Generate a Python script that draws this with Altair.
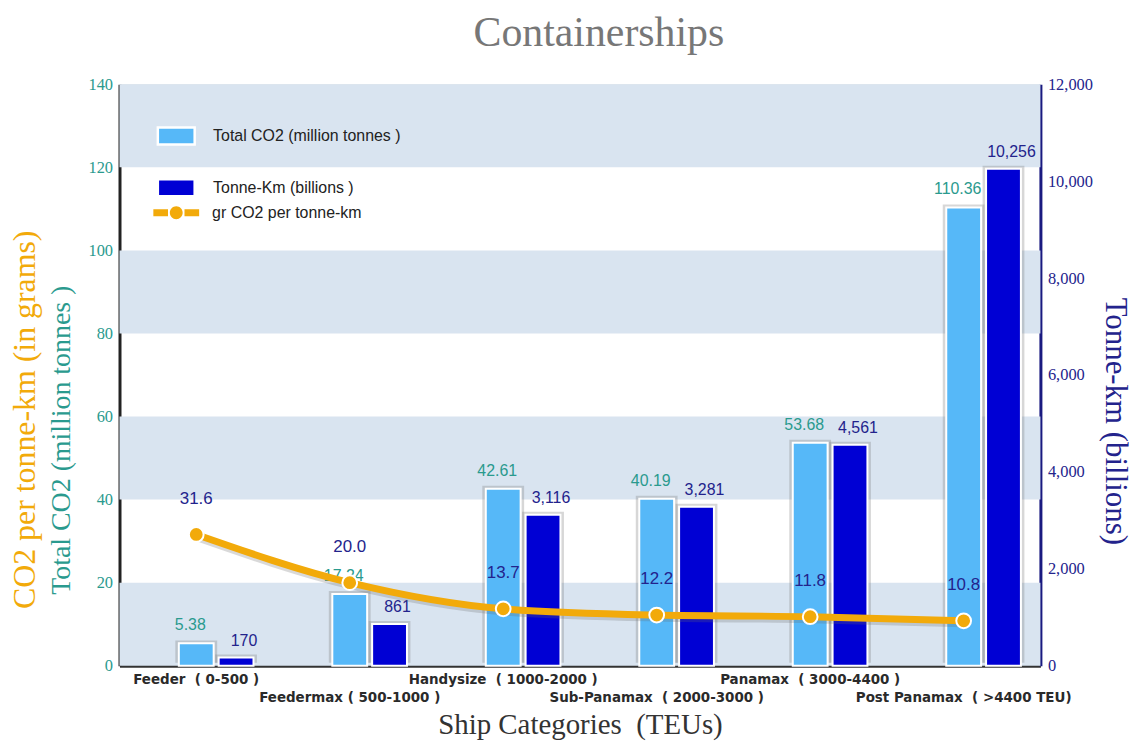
import altair as alt
import pandas as pd

NB = "\u00a0"
categories = ["Feeder  ( 0-500 )", "Feedermax ( 500-1000 )", "Handysize  ( 1000-2000 )",
              "Sub-Panamax  ( 2000-3000 )", "Panamax  ( 3000-4400 )", "Post Panamax  ( >4400 TEU)"]
total_co2 = [5.38, 17.24, 42.61, 40.19, 53.68, 110.36]
tonne_km = [170, 861, 3116, 3281, 4561, 10256]
gr_per_tkm = [31.6, 20.0, 13.7, 12.2, 11.8, 10.8]
label_row = [0, 1, 0, 1, 0, 1]
band_lo = [0, 40, 80, 120]
band_hi = [20, 60, 100, 140]
left_ticks = [0, 20, 40, 60, 80, 100, 120, 140]
right_ticks = [0, 2000, 4000, 6000, 8000, 10000, 12000]

LEG_CO2 = "Total CO2 (million tonnes )"
LEG_TKM = "Tonne-Km (billions )"
LEG_GR = "gr CO2 per tonne-km"

LIGHT = "#56b8f8"
DARK = "#0000d4"
ORANGE = "#f2aa0a"
TEAL = "#2a9a8e"
NAVY = "#23238c"
BAND = "#d9e4f0"
SERIF = "Liberation Serif"
SANS = "Liberation Sans"

W, H = 925, 584

df = pd.DataFrame({
    "cat": categories,
    "co2": total_co2,
    "tkm": tonne_km,
    "gr": gr_per_tkm,
    "row": label_row,
})
df["cat_lbl"] = [c.replace("  ", " " + NB) for c in categories]
df["co2_lbl"] = [f"{v:.2f}" for v in total_co2]
df["tkm_lbl"] = [f"{v:,}" for v in tonne_km]
df["gr_lbl"] = [f"{v:.1f}" for v in gr_per_tkm]

bands = pd.DataFrame({"lo": band_lo, "hi": band_hi})

x_axis = alt.Axis(labels=False, ticks=False, domainColor="#333333", domainWidth=3,
                  titleFont=SERIF, titleFontSize=29, titleFontWeight="normal",
                  titleColor="#333333", titlePadding=45)
X = alt.X("cat:N", sort=categories, title="Ship Categories " + NB + "(TEUs)",
          scale=alt.Scale(paddingInner=0, paddingOuter=0), axis=x_axis)

left_axis = alt.Axis(values=left_ticks, ticks=False, grid=False, domainColor="#222222",
                     domainWidth=3, labelFont=SERIF, labelFontSize=16.5, labelColor=TEAL,
                     labelPadding=7, titleFont=SERIF, titleFontSize=28,
                     titleFontWeight="normal", titleColor=TEAL, titlePadding=12, titleY=357)
right_axis = alt.Axis(orient="right", values=right_ticks, ticks=False, grid=False,
                      domainColor="#1a1a80", domainWidth=3, labelFont=SERIF, labelFontSize=16.5,
                      labelColor=NAVY, labelPadding=7,
                      labelExpr="format(datum.value, ',')", titleFont=SERIF,
                      titleFontSize=31, titleFontWeight="normal", titleColor=NAVY,
                      titlePadding=6, titleY=338)

lscale = alt.Scale(domain=[0, 140], nice=False, zero=True)
rscale = alt.Scale(domain=[0, 12000], nice=False, zero=True)


def YL(field):
    return alt.Y(field, scale=lscale, axis=left_axis, title=LEG_CO2)


color_scale = alt.Scale(domain=[LEG_CO2, LEG_TKM], range=[LIGHT, DARK])
color_legend = alt.Legend(orient="none", legendX=37, legendY=32, title=None,
                          symbolType="M-1,-0.46 L1,-0.46 L1,0.46 L-1,0.46 Z",
                          symbolSize=1369, symbolStrokeColor="white", symbolStrokeWidth=2.5,
                          rowPadding=18, labelOffset=17, labelFont=SANS, labelFontSize=16,
                          labelColor="#222222", labelLimit=500)
line_legend = alt.Legend(orient="none", legendX=34, legendY=106, title=None,
                         symbolType=("M-1,-0.15 L-0.36,-0.15 L-0.36,0.15 L-1,0.15 Z "
                                     "M0.36,-0.15 L1,-0.15 L1,0.15 L0.36,0.15 Z "
                                     "M-0.28,0 A0.28,0.28 0 1,0 0.28,0 A0.28,0.28 0 1,0 -0.28,0 Z"),
                         symbolSize=2116, symbolFillColor=ORANGE, symbolStrokeWidth=0,
                         labelOffset=13, labelFont=SANS, labelFontSize=16,
                         labelColor="#222222", labelLimit=500)

base = alt.Chart(df)

# ---- group A : left scale (bands, light bars, labels)
band_layer = alt.Chart(bands).mark_rect(color=BAND).encode(y=YL("lo:Q"), y2="hi:Q")
light_shadow = base.mark_bar(color="#7a7a7a", opacity=0.3, width=42, yOffset=-3).encode(
    x=X, y=YL("co2:Q"))
light_bars = base.transform_calculate(series=f"'{LEG_CO2}'").mark_bar(
    width=35, stroke="white", strokeWidth=2).encode(
    x=X, y=YL("co2:Q"),
    color=alt.Color("series:N", scale=color_scale, legend=color_legend))
light_lbl = base.mark_text(font=SANS, fontSize=16, color=TEAL, xOffset=-6, yOffset=-18,
                           baseline="middle").encode(x=X, y=YL("co2:Q"), text="co2_lbl:N")
xlbl_common = dict(font="DejaVu Sans Condensed", fontSize=15, fontWeight="bold",
                   color="#2a2a2a", baseline="middle")
xlbl0 = base.transform_filter("datum.row == 0").mark_text(**xlbl_common).encode(
    x=X, y=alt.value(H + 13), text="cat_lbl:N")
xlbl1 = base.transform_filter("datum.row == 1").mark_text(**xlbl_common).encode(
    x=X, y=alt.value(H + 31), text="cat_lbl:N")
orange_title = alt.Chart(pd.DataFrame({"t": ["CO2 per tonne-km (in grams)"]})).mark_text(
    font=SERIF, fontSize=32, color=ORANGE, angle=270, baseline="middle").encode(
    x=alt.value(-95), y=alt.value(337), text="t:N")

group_a = alt.layer(band_layer, light_shadow, light_bars, light_lbl, xlbl0, xlbl1, orange_title)

# ---- group B : right scale (dark bars)
Y_R = alt.Y("tkm:Q", scale=rscale, axis=right_axis, title="Tonne-km (billions)")
dark_shadow = base.mark_bar(color="#7a7a7a", opacity=0.3, width=42, xOffset=40, yOffset=-3).encode(
    x=X, y=Y_R)
dark_bars = base.transform_calculate(series=f"'{LEG_TKM}'").mark_bar(
    width=35, xOffset=40, stroke="white", strokeWidth=2).encode(
    x=X, y=Y_R, color=alt.Color("series:N", scale=color_scale, legend=color_legend))
dark_lbl = base.mark_text(font=SANS, fontSize=16, color=NAVY, xOffset=48, yOffset=-17,
                          baseline="middle").encode(x=X, y=Y_R, text="tkm_lbl:N")
group_b = alt.layer(dark_shadow, dark_bars, dark_lbl)

# ---- group C : CO2 per tonne-km line (same 0-140 mapping, no axis)
Y_G = alt.Y("gr:Q", scale=lscale, axis=None)
line_shadow = base.mark_line(color="#666666", opacity=0.25, strokeWidth=7, interpolate="monotone",
                             yOffset=3).encode(x=X, y=Y_G)
line = base.transform_calculate(series=f"'{LEG_GR}'").mark_line(
    strokeWidth=7, interpolate="monotone").encode(
    x=X, y=Y_G, stroke=alt.Stroke("series:N", scale=alt.Scale(domain=[LEG_GR], range=[ORANGE]),
                                  legend=line_legend))
points = base.mark_point(filled=True, shape="circle", size=220, fill=ORANGE, stroke="white",
                         strokeWidth=2, opacity=1).encode(x=X, y=Y_G)
line_lbl = base.mark_text(font=SANS, fontSize=17, color=NAVY, yOffset=-36,
                          baseline="middle").encode(x=X, y=Y_G, text="gr_lbl:N")
group_c = alt.layer(line_shadow, line, points, line_lbl)

chart = alt.layer(group_a, group_b, group_c).resolve_scale(y="independent").properties(
    width=W, height=H,
    padding={"left": 1, "right": 2, "top": 3, "bottom": 0},
    title=alt.TitleParams("Containerships", font=SERIF, fontSize=42, fontWeight="normal",
                          color="#777777", offset=21, anchor="middle", dx=19),
).configure_view(stroke=None).configure(background="white")

chart.save("out.html", embed_options={"renderer": "svg", "actions": False})
